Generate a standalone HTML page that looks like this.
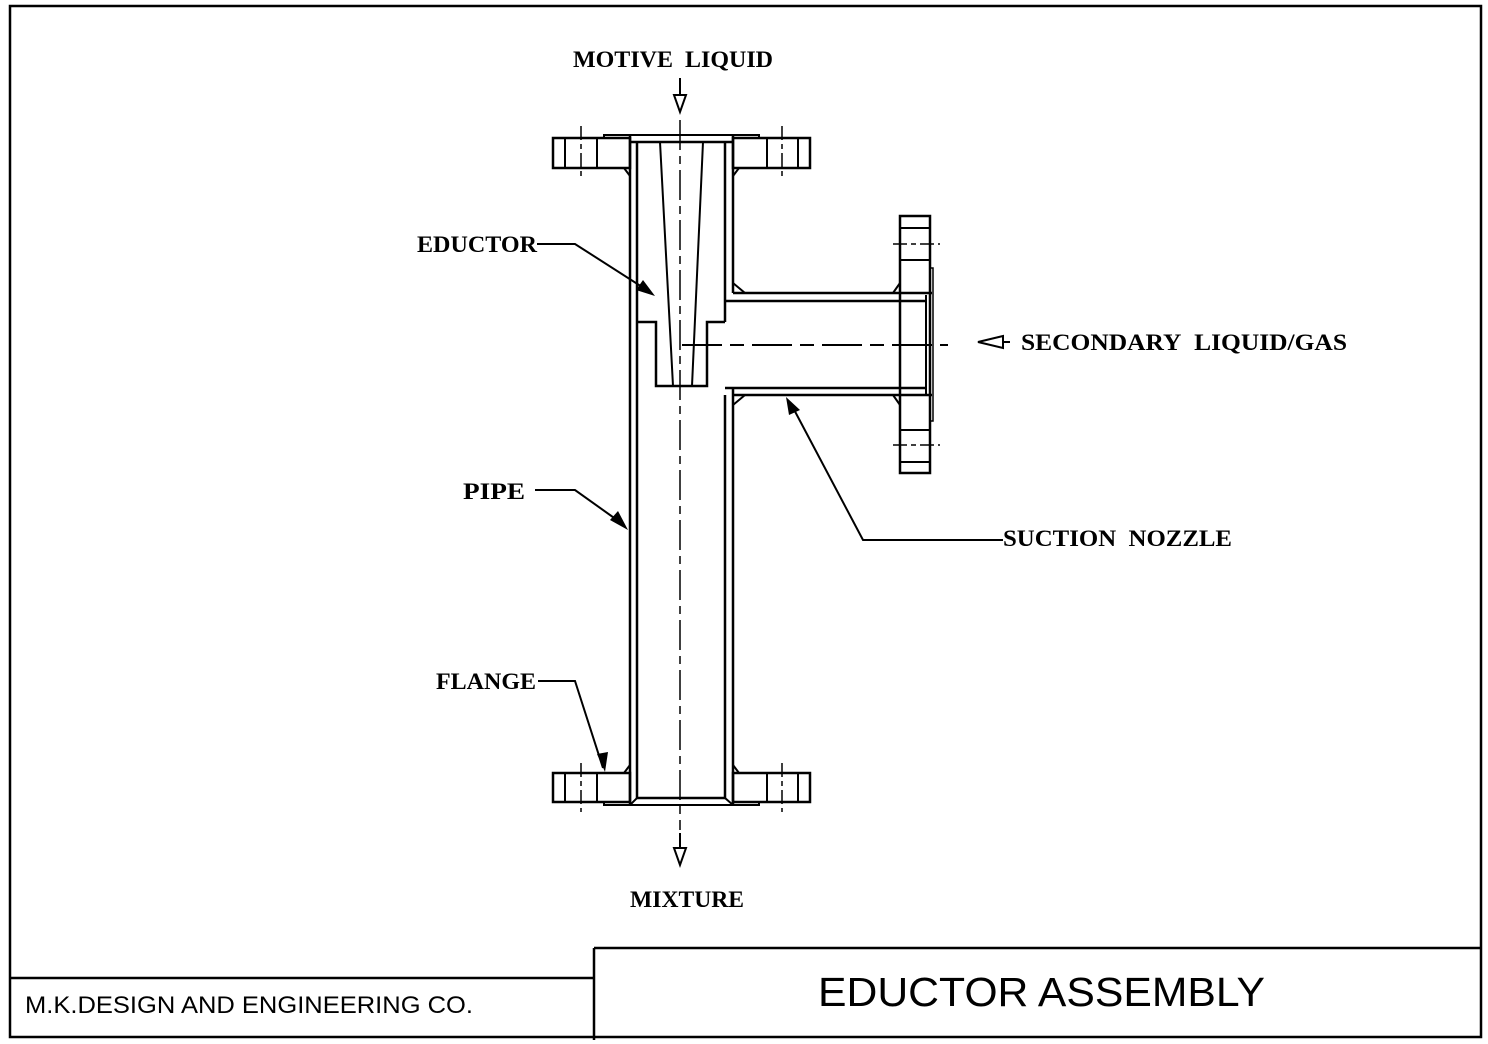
<!DOCTYPE html>
<html><head><style>
html,body{margin:0;padding:0;background:#fff;}
svg{display:block;}
.t{font-family:"Liberation Serif",serif;font-weight:bold;font-size:23px;fill:#000;}
</style></head><body>
<svg width="1488" height="1044" viewBox="0 0 1488 1044" xmlns="http://www.w3.org/2000/svg">
<g fill="none" stroke="#000" stroke-width="2">
<!-- frame -->
<path d="M10 6 H1481 V1037 H10 Z" stroke-width="2.5"/>
<path d="M594 948 H1481 M10 978 H594 M594 948 V1040" stroke-width="2.5"/>
<!-- top flange -->
<path d="M553 138 H630 V168 H553 Z M733 138 H810 V168 H733 Z" stroke-width="2.5"/>
<path d="M565 138 V168 M597 138 V168 M767 138 V168 M798 138 V168"/>
<path d="M581 126 V176 M782 126 V176" stroke-width="1.5" stroke-dasharray="14 4 5 4"/>
<path d="M604 138 V135 H759 V138" stroke-width="2"/>
<path d="M630 142 H733" stroke-width="2.5"/>
<!-- main pipe walls -->
<path d="M630 135 V805 M637 142 V798" stroke-width="2.5"/>
<path d="M725 142 V322 M733 135 V293 M725 395 V798 M733 388 V805" stroke-width="2.5"/>
<!-- fillets -->
<path d="M624 168 L630 176 M739 168 L733 176 M624 773 L630 765 M739 773 L733 765" stroke-width="2"/>
<!-- eductor body -->
<path d="M637 322 H656 V386 H707 V322 H725" stroke-width="2.5"/>
<path d="M660 142 L673 386 M703 142 L692 386" stroke-width="2"/>
<!-- branch -->
<path d="M733 293 H932 M725 301 H926 M725 388 H926 M733 395 H932" stroke-width="2.5"/>
<path d="M733 283 L745 293 M733 405 L745 395" stroke-width="2"/>
<path d="M926 295 V395" stroke-width="2"/>
<path d="M930 268 H933 V421 H930" stroke-width="1.5"/>
<path d="M900 216 H930 V473 H900 Z" stroke-width="2.5"/>
<path d="M900 228 H930 M900 260 H930 M900 430 H930 M900 462 H930" stroke-width="2"/>
<path d="M893 244 H940 M893 445 H940" stroke-width="1.5" stroke-dasharray="14 4 5 4"/>
<path d="M900 283 L893 293 M900 405 L893 395" stroke-width="2"/>
<!-- bottom flange -->
<path d="M553 773 H630 V802 H553 Z M733 773 H810 V802 H733 Z" stroke-width="2.5"/>
<path d="M565 773 V802 M597 773 V802 M767 773 V802 M798 773 V802"/>
<path d="M581 763 V812 M782 763 V812" stroke-width="1.5" stroke-dasharray="14 4 5 4"/>
<path d="M604 802 V805 H759 V802" stroke-width="2"/>
<path d="M637 798 H725" stroke-width="2.5"/>
<path d="M630 805 L637 798 M733 805 L725 798" stroke-width="2"/>
<!-- centerlines -->
<path d="M680 120 V830" stroke-width="1.5" stroke-dasharray="30 6 8 6"/>
<path d="M682 345 H948" stroke-width="2" stroke-dasharray="40 8 14 8"/>
<!-- flow arrows -->
<path d="M680 78 V95 M674 95 H686 L680 112 Z" stroke-width="2"/>
<path d="M680 833 V848 M674 848 H686 L680 865 Z" stroke-width="2"/>
<path d="M1003 336 L978 342 L1003 348 Z M1003 342 H1010" stroke-width="2"/>
<!-- leaders -->
<path d="M537 244 H575 L650 292" stroke-width="2"/>
<path d="M535 490 H575 L624 525" stroke-width="2"/>
<path d="M538 681 H575 L603 768" stroke-width="2"/>
<path d="M1003 540 H863 L790 402" stroke-width="2"/>
</g>
<g fill="#000">
<path d="M655 296 L636 290 L643 280 Z"/>
<path d="M628 530 L610 520 L618 511 Z"/>
<path d="M605 772 L597 754 L608 752 Z"/>
<path d="M786 397 L800 410 L789 415 Z"/>
</g>
<text class="t" x="573" y="67" textLength="200" lengthAdjust="spacingAndGlyphs">MOTIVE&#160; LIQUID</text>
<text class="t" x="417" y="252" textLength="120" lengthAdjust="spacingAndGlyphs">EDUCTOR</text>
<text class="t" x="463" y="499" textLength="62" lengthAdjust="spacingAndGlyphs">PIPE</text>
<text class="t" x="436" y="689" textLength="100" lengthAdjust="spacingAndGlyphs">FLANGE</text>
<text class="t" x="1021" y="350" textLength="326" lengthAdjust="spacingAndGlyphs">SECONDARY&#160; LIQUID/GAS</text>
<text class="t" x="1003" y="546" textLength="229" lengthAdjust="spacingAndGlyphs">SUCTION&#160; NOZZLE</text>
<text class="t" x="630" y="907" textLength="114" lengthAdjust="spacingAndGlyphs">MIXTURE</text>
<text x="818" y="1006" font-family="Liberation Sans, sans-serif" font-size="41" textLength="447" lengthAdjust="spacingAndGlyphs">EDUCTOR ASSEMBLY</text>
<text x="25" y="1013" font-family="Liberation Sans, sans-serif" font-size="24" textLength="448" lengthAdjust="spacingAndGlyphs">M.K.DESIGN AND ENGINEERING CO.</text>
</svg>
</body></html>
